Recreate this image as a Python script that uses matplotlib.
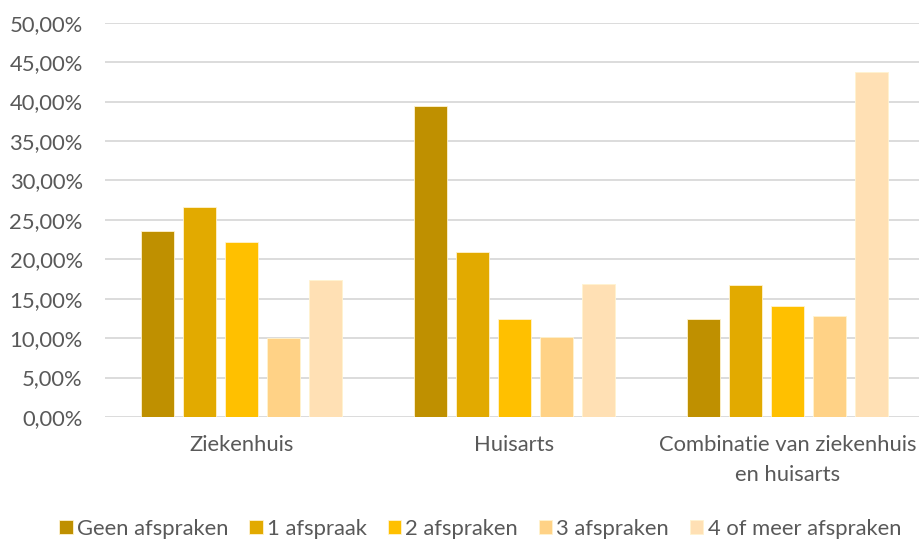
import matplotlib
matplotlib.use('Agg')
import matplotlib.pyplot as plt
import numpy as np
from matplotlib.ticker import FuncFormatter


categories = ['Ziekenhuis', 'Huisarts', 'Combinatie van ziekenhuis\nen huisarts']
series_names = ['Geen afspraken', '1 afspraak', '2 afspraken', '3 afspraken',
                '4 of meer afspraken']
geen = [23.6, 39.5, 12.4]
een = [26.6, 20.9, 16.75]
twee = [22.2, 12.4, 14.1]
drie = [10.05, 10.1, 12.85]
vier = [17.4, 16.9, 43.8]
colors = ['#BF9000', '#E2AA00', '#FFC000', '#FFD286', '#FFE0B4']


def _main():
    plt.rcParams['font.family'] = ['Lato', 'DejaVu Sans']
    fig = plt.figure(figsize=(9.2, 5.4), dpi=100)
    ax = fig.add_axes([105 / 920, 1 - 417 / 540, 815 / 920, (417 - 22.7) / 540])

    x = np.arange(len(categories))
    step = 42 / 273
    width = 33 / 273
    all_values = [geen, een, twee, drie, vier]
    for i, (name, vals) in enumerate(zip(series_names, all_values)):
        ax.bar(x + (i - 2) * step, vals, width, color=colors[i], label=name,
               edgecolor='#FFF3D0', linewidth=0.6, zorder=3)

    ax.set_ylim(0, 50)
    ax.set_xlim(-0.5, 2.5 - 4 / 273)
    ax.set_yticks(np.arange(0, 51, 5))
    ax.yaxis.set_major_formatter(
        FuncFormatter(lambda v, p: ('%.2f%%' % v).replace('.', ',')))
    ax.grid(axis='y', color='#D9D9D9', linewidth=1.3, zorder=0)
    for s in ax.spines.values():
        s.set_visible(False)
    ax.tick_params(axis='both', length=0, colors='#595959', labelsize=15.8)
    ax.tick_params(axis='y', pad=16)
    ax.set_xticks(x)
    ax.set_xticklabels(categories, linespacing=1.6)
    ax.tick_params(axis='x', pad=13)

    fig.legend(loc='lower center', bbox_to_anchor=(0.522, -0.035), ncol=5,
               frameon=False, fontsize=15.8, handlelength=0.6,
               handleheight=0.6, handletextpad=0.2, columnspacing=0.95,
               labelcolor='#595959')

    fig.savefig('out.png', dpi=100)


if __name__ == '__main__':
    _main()
